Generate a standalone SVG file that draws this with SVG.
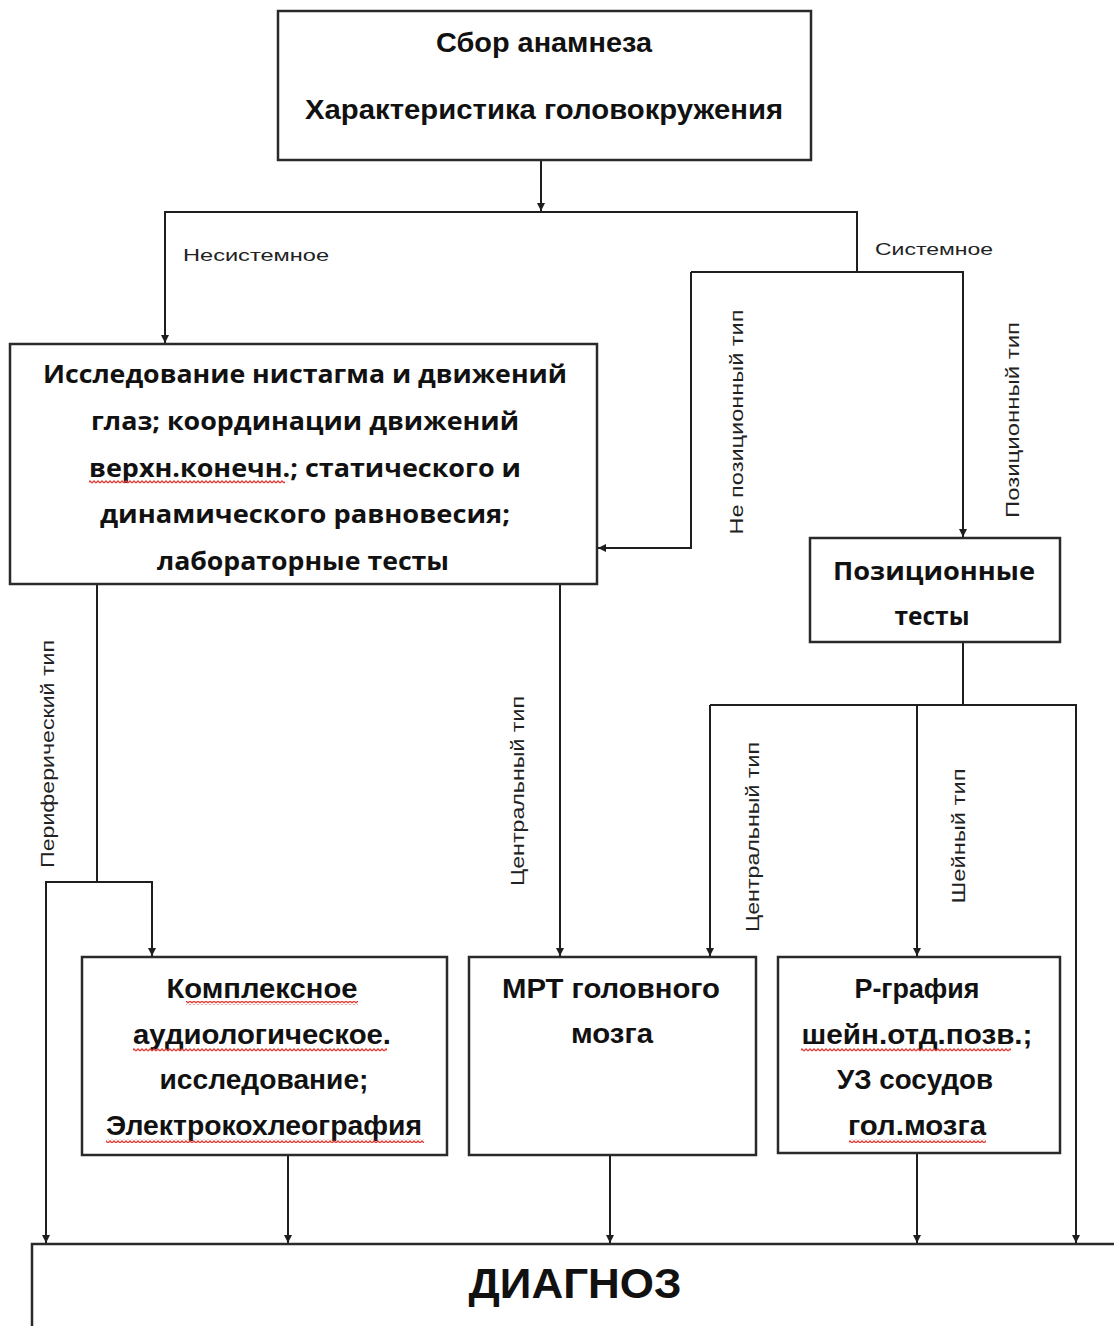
<svg xmlns="http://www.w3.org/2000/svg" width="1114" height="1326" viewBox="0 0 1114 1326">
<defs>
<marker id="arr" viewBox="0 0 8 8" refX="8" refY="4" markerWidth="8" markerHeight="8" markerUnits="userSpaceOnUse" orient="auto">
<path d="M0,0 L8,4 L0,8 z" fill="#1e1e1e"/>
</marker>
<pattern id="wavy" width="4" height="4" patternUnits="userSpaceOnUse">
<path d="M0,3 L2,1 L4,3" fill="none" stroke="#e0403a" stroke-width="1.3"/>
</pattern>
<style>
.box{fill:#fff;stroke:#2a2a2a;stroke-width:2.5}
.ln{fill:none;stroke:#1e1e1e;stroke-width:2}
.t{font-family:"Liberation Sans",Arial,sans-serif;font-weight:bold;font-size:27.5px;fill:#111;text-anchor:middle}
.o{font-family:"Open Sans","Liberation Sans",sans-serif;font-weight:bold;font-size:25px;fill:#111;text-anchor:middle}
.lb{font-family:"Liberation Sans",Arial,sans-serif;font-size:17px;fill:#222}
.v{font-family:"Liberation Sans",Arial,sans-serif;font-size:17.5px;fill:#222;text-anchor:middle}
.w{fill:url(#wavy)}
</style>
</defs>
<rect width="1114" height="1326" fill="#fff"/>

<g id="connectors">
<path class="ln" d="M541,160 V211" marker-end="url(#arr)"/>
<path class="ln" d="M857,272 V212 H165 V343" marker-end="url(#arr)"/>
<path class="ln" d="M691,272 H963 V537" marker-end="url(#arr)"/>
<path class="ln" d="M691,272 V548 H598" marker-end="url(#arr)"/>
<path class="ln" d="M97,585 V882 H152 V956" marker-end="url(#arr)"/>
<path class="ln" d="M97,882 H46 V1243" marker-end="url(#arr)"/>
<path class="ln" d="M560,585 V956" marker-end="url(#arr)"/>
<path class="ln" d="M963,642 V705"/>
<path class="ln" d="M710,705 H1076 V1243" marker-end="url(#arr)"/>
<path class="ln" d="M710,705 V956" marker-end="url(#arr)"/>
<path class="ln" d="M917,705 V956" marker-end="url(#arr)"/>
<path class="ln" d="M288,1156 V1243" marker-end="url(#arr)"/>
<path class="ln" d="M610,1156 V1243" marker-end="url(#arr)"/>
<path class="ln" d="M917,1153 V1243" marker-end="url(#arr)"/>
<text class="lb" x="183" y="261" textLength="146" lengthAdjust="spacingAndGlyphs">Несистемное</text>
<text class="lb" x="875" y="255" textLength="118" lengthAdjust="spacingAndGlyphs">Системное</text>
<text class="v" transform="translate(743,422) rotate(-90)" textLength="225" lengthAdjust="spacingAndGlyphs">Не позиционный тип</text>
<text class="v" transform="translate(1019,420) rotate(-90)" textLength="196" lengthAdjust="spacingAndGlyphs">Позиционный тип</text>
<text class="v" transform="translate(54,754) rotate(-90)" textLength="228" lengthAdjust="spacingAndGlyphs">Периферический тип</text>
<text class="v" transform="translate(524,791) rotate(-90)" textLength="190" lengthAdjust="spacingAndGlyphs">Центральный тип</text>
<text class="v" transform="translate(759,837) rotate(-90)" textLength="190" lengthAdjust="spacingAndGlyphs">Центральный тип</text>
<text class="v" transform="translate(965,836) rotate(-90)" textLength="135" lengthAdjust="spacingAndGlyphs">Шейный тип</text>
</g>

<g id="node-anamnesis">
<rect class="box" x="278" y="11" width="533" height="149"/>
<text class="t" x="544" y="52" textLength="216" lengthAdjust="spacingAndGlyphs">Сбор анамнеза</text>
<text class="t" x="544" y="119" textLength="478" lengthAdjust="spacingAndGlyphs">Характеристика головокружения</text>
</g>

<g id="node-exam">
<rect class="box" x="10" y="344" width="587" height="240"/>
<text class="o" x="305" y="383" textLength="524" lengthAdjust="spacingAndGlyphs">Исследование нистагма и движений</text>
<text class="o" x="305" y="430" textLength="428" lengthAdjust="spacingAndGlyphs">глаз; координации движений</text>
<text class="o" x="305" y="477" textLength="432" lengthAdjust="spacingAndGlyphs">верхн.конечн.; статического  и</text>
<text class="o" x="305" y="523" textLength="410" lengthAdjust="spacingAndGlyphs">динамического равновесия;</text>
<text class="o" x="303" y="570" textLength="292" lengthAdjust="spacingAndGlyphs">лабораторные тесты</text>
<rect class="w" x="89" y="480" width="196" height="4"/>
</g>

<g id="node-positional">
<rect class="box" x="810" y="538" width="250" height="104"/>
<text class="o" x="934" y="580" textLength="202" lengthAdjust="spacingAndGlyphs">Позиционные</text>
<text class="o" x="932" y="625" textLength="75" lengthAdjust="spacingAndGlyphs">тесты</text>
</g>

<g id="node-audio">
<rect class="box" x="82" y="957" width="365" height="198"/>
<text class="t" x="262" y="998" textLength="191" lengthAdjust="spacingAndGlyphs">Комплексное</text>
<text class="t" x="262" y="1044" textLength="258" lengthAdjust="spacingAndGlyphs">аудиологическое.</text>
<text class="t" x="264" y="1089" textLength="209" lengthAdjust="spacingAndGlyphs">исследование;</text>
<text class="t" x="264" y="1135" textLength="316" lengthAdjust="spacingAndGlyphs">Электрокохлеография</text>
<rect class="w" x="186" y="1001" width="172" height="4"/>
<rect class="w" x="133" y="1048" width="254" height="4"/>
<rect class="w" x="106" y="1139" width="318" height="4"/>
</g>

<g id="node-mri">
<rect class="box" x="469" y="957" width="287" height="198"/>
<text class="t" x="611" y="998" textLength="218" lengthAdjust="spacingAndGlyphs">МРТ  головного</text>
<text class="t" x="612" y="1043" textLength="82" lengthAdjust="spacingAndGlyphs">мозга</text>
</g>

<g id="node-xray">
<rect class="box" x="778" y="957" width="282" height="196"/>
<text class="t" x="917" y="998" textLength="125" lengthAdjust="spacingAndGlyphs">Р-графия</text>
<text class="t" x="917" y="1044" textLength="231" lengthAdjust="spacingAndGlyphs">шейн.отд.позв.;</text>
<text class="t" x="915" y="1089" textLength="156" lengthAdjust="spacingAndGlyphs">УЗ сосудов</text>
<text class="t" x="917" y="1135" textLength="138" lengthAdjust="spacingAndGlyphs">гол.мозга</text>
<rect class="w" x="801" y="1048" width="210" height="4"/>
<rect class="w" x="849" y="1139" width="137" height="4"/>
</g>

<g id="node-diagnosis">
<rect class="box" x="32" y="1244" width="1100" height="100"/>
<text class="t" x="575" y="1298" style="font-size:42px" textLength="213" lengthAdjust="spacingAndGlyphs">ДИАГНОЗ</text>
</g>
</svg>
